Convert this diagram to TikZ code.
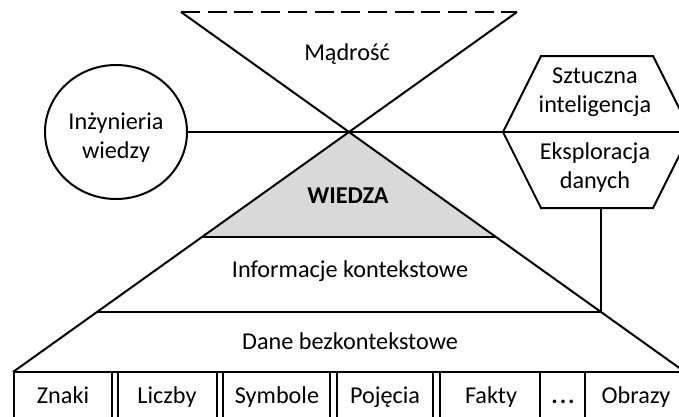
\documentclass[tikz,border=0pt]{standalone}
\usepackage{fontspec}
\setmainfont{Carlito}
\usetikzlibrary{shapes.geometric}
\begin{document}
\begin{tikzpicture}[x=1pt,y=-1pt,line width=2pt,
  lbl/.style={font=\fontsize{24.2}{29}\selectfont,align=center,inner sep=0pt},
  cell/.style={draw,line width=2pt},
  ln/.style={draw,line width=2pt}]
\useasboundingbox (0,0) rectangle (679,416);
\clip (0,0) rectangle (679,416);
% key points
\coordinate (apex) at (349,132);
\coordinate (tl) at (181,12);
\coordinate (tr) at (517,12);
\coordinate (bl) at (13,372);
\coordinate (br) at (685,372);
\coordinate (wl) at (202,237);
\coordinate (wr) at (496,237);
\coordinate (il) at (98,312);
\coordinate (ir) at (601,312);
% hexagon vertices
\coordinate (h1) at (503,132);
\coordinate (h2) at (541,56);
\coordinate (h3) at (653,56);
\coordinate (h4) at (691,132);
\coordinate (h5) at (653,208);
\coordinate (h6) at (541,208);
\coordinate (hb) at (601,208);
% gray WIEDZA triangle
\fill[gray!30] (apex) -- (wl) -- (wr) -- cycle;
% X and pyramid
\draw[ln] (tl) -- (br);
\draw[ln] (tr) -- (bl);
\draw[ln,dash pattern=on 19pt off 7.7pt] (tl) -- (tr);
\draw[ln] (wl) -- (wr);
\draw[ln] (il) -- (ir);
\draw[ln] (bl) -- (br);
% circle
\node[draw,ellipse,line width=2pt,minimum width=142,minimum height=134,inner sep=0pt] (ie) at (116,132) {};
% hexagon
\draw[ln] (h1) -- (h2) -- (h3) -- (h4) -- (h5) -- (h6) -- cycle;
\draw[ln] (ie.east) -- (h1);
\draw[ln] (h1) -- (h4);
\draw[ln] (hb) -- (ir);
% bottom boxes
\draw[cell] (14,372) rectangle (112,430);
\draw[cell] (118,372) rectangle (217,430);
\draw[cell] (223,372) rectangle (330,430);
\draw[cell] (337,372) rectangle (433,430);
\draw[cell] (440,372) rectangle (540,430);
\draw[cell] (540,372) rectangle (585,430);
\draw[cell] (585,372) rectangle (695,430);
% texts
\node[lbl,anchor=base] (madrosc) at (347,60) {Mądrość};
\node[lbl,anchor=base,font=\fontsize{24.2}{29}\selectfont\bfseries] (wiedza) at (348,203) {WIEDZA};
\node[lbl,anchor=base] (info) at (350,277) {Informacje kontekstowe};
\node[lbl,anchor=base] (dane) at (350,349) {Dane bezkontekstowe};
\node[lbl,anchor=base] (ietext) at (116,158) {Inżynieria\\wiedzy};
\node[lbl,anchor=base] (si) at (595,112) {Sztuczna\\inteligencja};
\node[lbl,anchor=base] (ed) at (595,188) {Eksploracja\\danych};
\node[lbl,anchor=base] (znaki) at (63,403) {Znaki};
\node[lbl,anchor=base] (liczby) at (167,403) {Liczby};
\node[lbl,anchor=base] (symbole) at (277,403) {Symbole};
\node[lbl,anchor=base] (pojecia) at (385,403) {Pojęcia};
\node[lbl,anchor=base] (fakty) at (491,403) {Fakty};
\node[lbl,anchor=base,font=\fontsize{24.2}{29}\selectfont\bfseries] (dots) at (563,403) {.\hspace{2pt}.\hspace{2pt}.};
\node[lbl,anchor=base] (obrazy) at (636,403) {Obrazy};
\end{tikzpicture}
\end{document}
